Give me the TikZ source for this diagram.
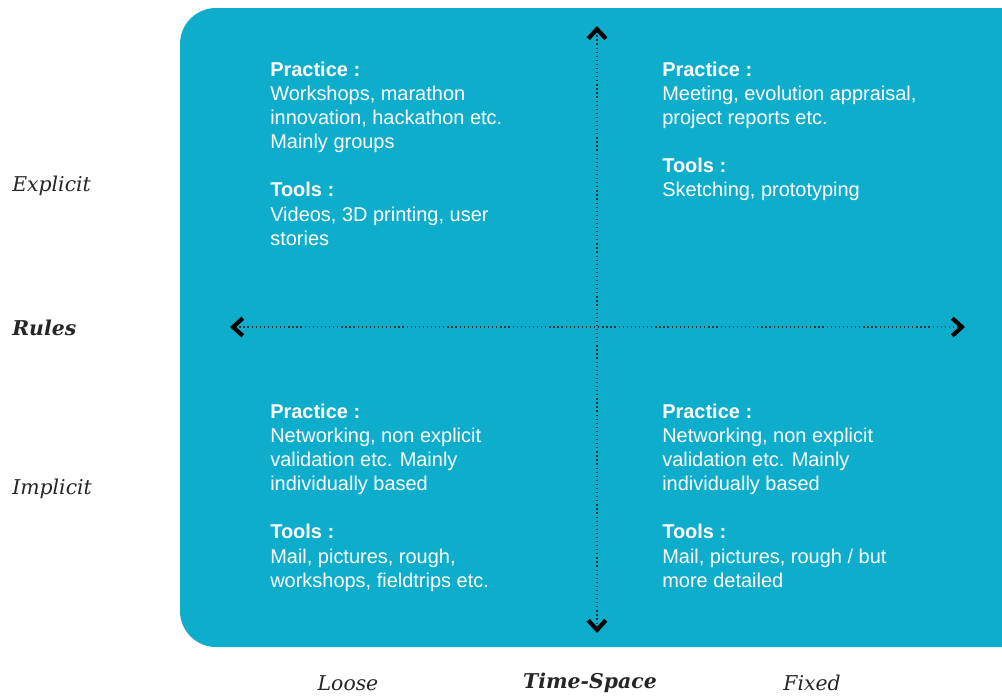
\documentclass[tikz,border=0pt]{standalone}
\usepackage{fontspec}
\setmainfont{Liberation Sans}
\newfontfamily\labelfont{DejaVu Serif}
\usetikzlibrary{arrows.meta}
\definecolor{BoxClr}{RGB}{14,173,204}
\definecolor{AxisClr}{RGB}{40,50,60}

\tikzset{
  quadtext/.style={anchor=north west,align=left,inner sep=0pt,text=white,
    font=\fontsize{14.2pt}{17.1pt}\selectfont},
  axislabel/.style={inner sep=0pt,text=black!85,
    font=\labelfont\itshape\fontsize{14.5pt}{17pt}\selectfont},
  chevron/.tip={Straight Barb[length=2.4mm,width=4.4mm,line width=3pt,line cap=butt,color=black]},
  axisline/.style={AxisClr,line width=0.9pt,dotted,chevron-chevron}
}

\begin{document}
\begin{tikzpicture}[x=0.025cm,y=-0.025cm]
\useasboundingbox (0,0) rectangle (1002,697);

\fill[BoxClr,rounded corners=0.9cm] (180,8) rectangle (1040,647);

\coordinate (T) at (597,26);
\coordinate (B) at (597,633);
\coordinate (L) at (230,327);
\coordinate (R) at (965,327);

\draw[axisline] (T) -- (B);
\draw[axisline] (L) -- (R);

\node[quadtext] (Q1) at (270,62) {\textbf{Practice :}\\Workshops, marathon\\innovation, hackathon etc.\\Mainly groups\\[17.1pt]\textbf{Tools :}\\Videos, 3D printing, user\\stories};
\node[quadtext] (Q2) at (662,62) {\textbf{Practice :}\\Meeting, evolution appraisal,\\project reports etc.\\[17.1pt]\textbf{Tools :}\\Sketching, prototyping};
\node[quadtext] (Q3) at (270,404) {\textbf{Practice :}\\Networking, non explicit\\validation etc. Mainly\\individually based\\[17.1pt]\textbf{Tools :}\\Mail, pictures, rough,\\workshops, fieldtrips etc.};
\node[quadtext] (Q4) at (662,404) {\textbf{Practice :}\\Networking, non explicit\\validation etc. Mainly\\individually based\\[17.1pt]\textbf{Tools :}\\Mail, pictures, rough / but\\more detailed};

\node[axislabel,anchor=west] (Ex) at (12,186) {Explicit};
\node[axislabel,anchor=west,font=\labelfont\bfseries\itshape\fontsize{14.5pt}{17pt}\selectfont] (Ru) at (12,328) {Rules};
\node[axislabel,anchor=west] (Im) at (12,489) {Implicit};
\node[axislabel] (Lo) at (348,683) {Loose};
\node[axislabel,font=\labelfont\bfseries\itshape\fontsize{14.5pt}{17pt}\selectfont] (TS) at (590,683) {Time-Space};
\node[axislabel] (Fi) at (812,683) {Fixed};

\end{tikzpicture}
\end{document}
